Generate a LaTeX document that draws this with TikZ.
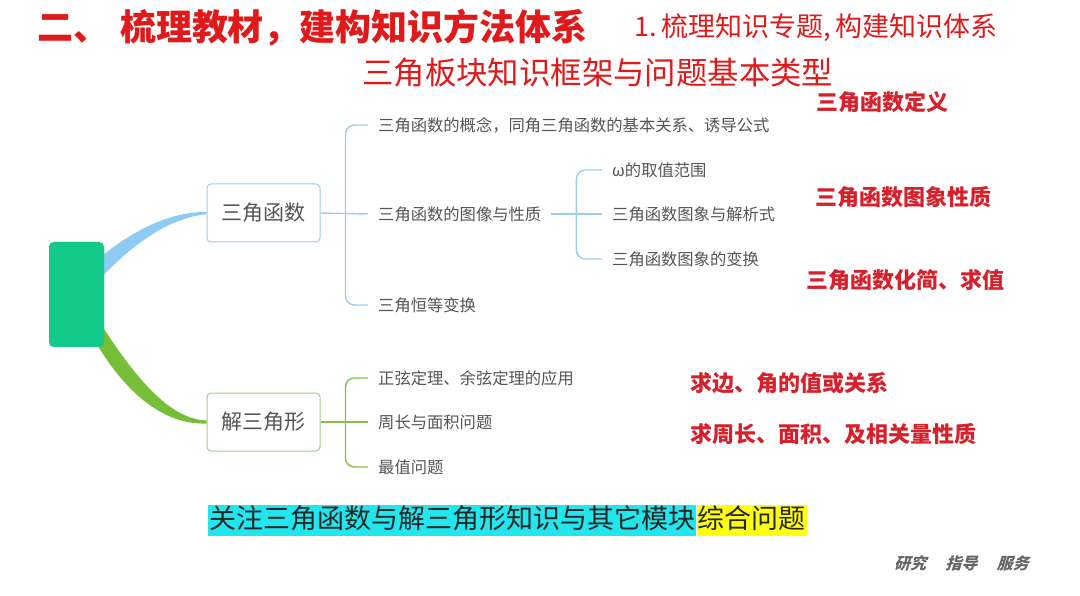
\documentclass[tikz,border=0pt]{standalone}
\usepackage{fontspec}
\setmainfont{Noto Sans CJK SC}
\newfontfamily\cjk{Noto Sans CJK SC}
\newfontfamily\cjkit[FakeSlant=0.3]{Noto Sans CJK SC}
\usetikzlibrary{calc}
\definecolor{tred}{HTML}{E01A1A}
\definecolor{lred}{HTML}{D6202C}
\definecolor{rootg}{HTML}{12C98A}
\definecolor{bband}{HTML}{8DCBF3}
\definecolor{bline}{HTML}{9CCDEB}
\definecolor{gband}{HTML}{76BD38}
\definecolor{gline}{HTML}{86C250}
\definecolor{gbox}{HTML}{A3CF84}
\definecolor{txtg}{HTML}{555555}
\definecolor{hcyan}{HTML}{22E6EE}
\definecolor{hyel}{HTML}{FFFF10}
\tikzset{
  fs/.style={font=\cjk\fontsize{#1}{#1}\selectfont},
  fsb/.style={font=\cjk\bfseries\fontsize{#1}{#1}\selectfont},
  mainbox/.style={draw=#1, line width=1pt, rounded corners=4pt, fill=white,
    minimum width=113, minimum height=58, text=txtg, fs=21},
  leaf/.style={anchor=west, inner sep=0pt, text=txtg, fs=16.3},
  note/.style={anchor=west, inner sep=0pt, text=lred, fsb=22},
  brb/.style={draw=bline, line width=1.4pt, rounded corners=9pt},
  brg/.style={draw=gline, line width=1.4pt, rounded corners=9pt},
  rootbox/.style={draw=none, fill=rootg, rounded corners=5pt, minimum width=55, minimum height=105, inner sep=0pt},
}
\begin{document}
\begin{tikzpicture}[x=1pt,y=-1pt]
\useasboundingbox[fill=white] (0,0) rectangle (1080,596);
% titles
\node[anchor=west, inner sep=0pt, text=tred, fsb=36] (t1) at (37,28) {二、\hspace{0.3em}梳理教材，建构知识方法体系};
\node[anchor=west, inner sep=0pt, text=tred, fs=27] (t2) at (634,28) {1.\,梳理知识专题,\,构建知识体系};
\node[anchor=west, inner sep=0pt, text=tred, fs=31.4] (t3) at (362,73) {三角板块知识框架与问题基本类型};
% main boxes
\node[mainbox=bline] (tf) at (263.5,213) {三角函数};
\node[mainbox=gbox] (jt) at (263.5,422) {解三角形};
\node[rootbox] (root) at (76.5,294.5) {};
% tapered branches
\fill[bband] ($(root.east)+(-3,-38)$) .. controls (140,225) and (175,212) .. ($(tf.west)+(0,-1.2)$)
  -- ($(tf.west)+(0,1.2)$) .. controls (170,218) and (135,242) .. ($(root.east)+(-3,-17)$) -- cycle;
\fill[gband] ($(root.east)+(-3,30)$) .. controls (140,385) and (172,419) .. ($(jt.west)+(0,-1.5)$)
  -- ($(jt.west)+(0,1.5)$) .. controls (165,425) and (128,395) .. ($(root.east)+(-6,52)$) -- cycle;
\node[rootbox] at (root) {};
% children of 三角函数
\node[leaf] (a1) at (378,125) {三角函数的概念，同角三角函数的基本关系、诱导公式};
\node[leaf] (a2) at (378,214) {三角函数的图像与性质};
\node[leaf] (a3) at (378,305) {三角恒等变换};
\coordinate (ja) at ($(tf.east)+(25,0)$);
\draw[brb] (tf.east) -- ($(a2.west)+(-10,0)$);
\draw[brb] (ja) |- ($(a1.west)+(-10,0)$);
\draw[brb] (ja) |- ($(a3.west)+(-10,0)$);
% grandchildren
\node[leaf] (b1) at (612,170) {ω的取值范围};
\node[leaf] (b2) at (612,214) {三角函数图象与解析式};
\node[leaf] (b3) at (612,259) {三角函数图象的变换};
\coordinate (jb) at ($(a2.east)+(35,0)$);
\draw[brb] ($(a2.east)+(10,0)$) -- ($(b2.west)+(-10,0)$);
\draw[brb] (jb) |- ($(b1.west)+(-10,0)$);
\draw[brb] (jb) |- ($(b3.west)+(-10,0)$);
% children of 解三角形
\node[leaf] (c1) at (378,378) {正弦定理、余弦定理的应用};
\node[leaf] (c2) at (378,422) {周长与面积问题};
\node[leaf] (c3) at (378,467) {最值问题};
\coordinate (jc) at ($(jt.east)+(25,0)$);
\draw[brg] (jt.east) -- ($(c2.west)+(-10,0)$);
\draw[brg] (jc) |- ($(c1.west)+(-10,0)$);
\draw[brg] (jc) |- ($(c3.west)+(-10,0)$);
% red notes
\node[note] (n1) at (816,102) {三角函数定义};
\node[note] (n2) at (815,197) {三角函数图象性质};
\node[note] (n3) at (806,280) {三角函数化简、求值};
\node[note] (n4) at (690,383) {求边、角的值或关系};
\node[note] (n5) at (690,434) {求周长、面积、及相关量性质};
% bottom highlight
\node[anchor=west, fill=hcyan, inner xsep=1pt, inner ysep=0pt, text height=24, text depth=7, fs=27, text=black!85] (h1) at (208,520) {关注三角函数与解三角形知识与其它模块};
\node[anchor=west, fill=hyel, inner xsep=1pt, inner ysep=0pt, text height=24, text depth=7, fs=27, text=black!85] (h2) at (h1.east) {综合问题};
% footer
\node[anchor=west, inner sep=0pt, text=black!60, font=\cjkit\bfseries\fontsize{16}{16}\selectfont] (ft) at (894,563) {研究\hspace{1.2em}指导\hspace{1.2em}服务};
\end{tikzpicture}
\end{document}
